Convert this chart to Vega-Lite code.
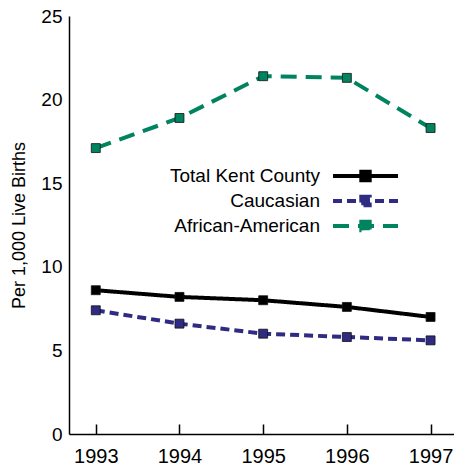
{
  "$schema": "https://vega.github.io/schema/vega-lite/v6.json",
  "width": 385,
  "height": 418,
  "autosize": {"type": "none"},
  "padding": {"left": 69, "top": 16, "right": 0, "bottom": 34},
  "background": "white",
  "config": {
    "view": {"stroke": null},
    "font": "Liberation Sans",
    "axis": {
      "grid": true,
      "gridColor": "#000000",
      "gridOpacity": 1,
      "gridWidth": 1.5,
      "ticks": false,
      "domainColor": "#000000",
      "domainWidth": 1.5,
      "labelColor": "#000000",
      "labelFont": "Liberation Sans",
      "titleFont": "Liberation Sans",
      "titleColor": "#000000",
      "titleFontWeight": "normal"
    }
  },
  "data": {
    "values": [
      {"series": "Total Kent County", "year": 1993, "rate": 8.6},
      {"series": "Total Kent County", "year": 1994, "rate": 8.2},
      {"series": "Total Kent County", "year": 1995, "rate": 8.0},
      {"series": "Total Kent County", "year": 1996, "rate": 7.6},
      {"series": "Total Kent County", "year": 1997, "rate": 7.0},
      {"series": "Caucasian", "year": 1993, "rate": 7.4},
      {"series": "Caucasian", "year": 1994, "rate": 6.6},
      {"series": "Caucasian", "year": 1995, "rate": 6.0},
      {"series": "Caucasian", "year": 1996, "rate": 5.8},
      {"series": "Caucasian", "year": 1997, "rate": 5.6},
      {"series": "African-American", "year": 1993, "rate": 17.1},
      {"series": "African-American", "year": 1994, "rate": 18.9},
      {"series": "African-American", "year": 1995, "rate": 21.4},
      {"series": "African-American", "year": 1996, "rate": 21.3},
      {"series": "African-American", "year": 1997, "rate": 18.3}
    ]
  },
  "encoding": {
    "x": {
      "field": "year",
      "type": "quantitative",
      "scale": {"domain": [1992.68, 1997.28], "nice": false, "zero": false},
      "axis": {
        "title": null,
        "values": [1993, 1994, 1995, 1996, 1997],
        "format": "d",
        "labelFontSize": 20,
        "labelPadding": 12,
        "labelFlush": false,
        "gridDash": [0, 408, 10, 3000]
      }
    },
    "y": {
      "field": "rate",
      "type": "quantitative",
      "scale": {"domain": [0, 25], "nice": false},
      "axis": {
        "title": "Per 1,000 Live Births",
        "values": [0, 5, 10, 15, 20, 25],
        "labelFontSize": 19,
        "labelPadding": 7,
        "titleFontSize": 18,
        "titlePadding": 12,
        "gridDash": [0, 750, 10, 3000]
      }
    },
    "color": {
      "field": "series",
      "type": "nominal",
      "scale": {
        "domain": ["Total Kent County", "Caucasian", "African-American"],
        "range": ["#000000", "#2f2a82", "#00835f"]
      },
      "legend": {
        "title": null,
        "orient": "none",
        "legendX": 284.5,
        "legendY": 148,
        "padding": 0,
        "symbolType": "M-3.25,0L3.25,0M-0.42,-0.42L0.42,-0.42L0.42,0.42L-0.42,0.42Z",
        "symbolSize": 400,
        "symbolStrokeWidth": 4,
        "rowPadding": -1,
        "labelAlign": "right",
        "labelOffset": -57.5,
        "labelFontSize": 19,
        "labelColor": "#000000",
        "labelFont": "Liberation Sans",
        "labelLimit": 300,
        "encode": {
          "symbols": {
            "update": {
              "fill": {"signal": "scale('color', datum.value)"},
              "stroke": {"signal": "scale('color', datum.value)"},
              "strokeDash": {"signal": "scale('strokeDash', datum.value)"},
              "fillOpacity": {"value": 1},
              "opacity": {"value": 1}
            }
          }
        }
      }
    }
  },
  "layer": [
    {
      "mark": {"type": "line", "strokeWidth": 4},
      "encoding": {
        "strokeDash": {
          "field": "series",
          "type": "nominal",
          "scale": {
            "domain": ["Total Kent County", "Caucasian", "African-American"],
            "range": [[1, 0], [9, 5], [16, 9]]
          },
          "legend": null
        }
      }
    },
    {
      "mark": {"type": "point", "shape": "square", "filled": true, "size": 80, "opacity": 1, "stroke": "#111111", "strokeWidth": 0.8}
    }
  ]
}
